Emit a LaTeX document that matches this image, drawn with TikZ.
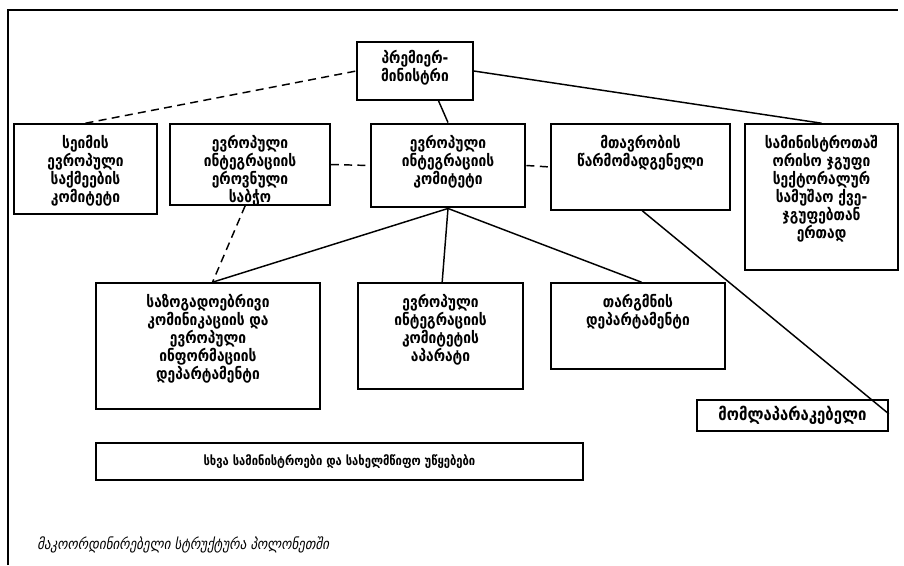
\documentclass[tikz,border=0pt]{standalone}
\usepackage{fontspec}
\setmainfont{DejaVu Sans}
\newfontfamily\geo[FakeStretch=0.86]{DejaVu Sans}
\usetikzlibrary{fit,calc}
\tikzset{
  boxline/.style={draw, line width=1.2pt, inner sep=0pt},
  thickbox/.style={draw, line width=2.2pt, inner sep=0pt},
  txt/.style={align=center, font=\geo\bfseries\fontsize{12}{13.5}\selectfont, inner sep=0pt, anchor=north},
  conn/.style={line width=1.1pt},
  dconn/.style={line width=1.1pt, dash pattern=on 6pt off 4pt},
}
\newcommand{\mkbox}[4][boxline]{%
  \coordinate (#2-nw) at (#3);
  \coordinate (#2-se) at (#4);
  \node[fit=(#2-nw)(#2-se), #1] (#2) {};
}
\begin{document}
\begin{tikzpicture}[x=0.75pt, y=-0.75pt]
\useasboundingbox (0,0) rectangle (904,565);
% frame
\draw[line width=1.4pt] (8,565) -- (8,10) -- (898,10);
% boxes
\mkbox{pm}{357,42}{473,100}
\mkbox{b2}{14,124}{157,214}
\mkbox{b3}{170,124}{330,205}
\mkbox[thickbox]{b4}{371,124}{525,207}
\mkbox{b5}{551,124}{730,210}
\mkbox{b6}{745,124}{898,270}
\mkbox{b7}{96,283}{320,409}
\mkbox{b8}{358,283}{523,389}
\mkbox{b9}{551,283}{725,369}
\mkbox{b10}{697,400}{888,431}
\mkbox{b11}{96,443}{583,480}
% texts
\node[txt] (tpm) at ($(pm.north)+(0,9)$) {პრემიერ-\\მინისტრი};
\node[txt] (t2) at ($(b2.north)+(0,12)$) {სეიმის\\ევროპული\\საქმეების\\კომიტეტი};
\begin{scope}
\clip (b3.south west) rectangle (b3.north east);
\node[txt] (t3) at ($(b3.north)+(0,12)$) {ევროპული\\ინტეგრაციის\\ეროვნული\\საბჭო};
\end{scope}
\node[txt] (t4) at ($(b4.north)+(0,12)$) {ევროპული\\ინტეგრაციის\\კომიტეტი};
\node[txt] (t5) at ($(b5.north)+(0,12)$) {მთავრობის\\წარმომადგენელი};
\node[txt] (t6) at ($(b6.north)+(0,12)$) {სამინისტროთაშ\\ორისო ჯგუფი\\სექტორალურ\\სამუშაო ქვე-\\ჯგუფებთან\\ერთად};
\node[txt] (t7) at ($(b7.north)+(0,12)$) {საზოგადოებრივი\\კომინიკაციის და\\ევროპული\\ინფორმაციის\\დეპარტამენტი};
\node[txt] (t8) at ($(b8.north)+(0,12)$) {ევროპული\\ინტეგრაციის\\კომიტეტის\\აპარატი};
\node[txt] (t9) at ($(b9.north)+(0,12)$) {თარგმნის\\დეპარტამენტი};
\node[txt, anchor=center, font=\geo\bfseries\fontsize{13}{14}\selectfont] (t10) at (b10.center) {მომლაპარაკებელი};
\node[txt, anchor=center, font=\geo\bfseries\fontsize{9.8}{11}\selectfont] (t11) at (b11.center) {სხვა სამინისტროები და სახელმწიფო უწყებები};
\node[font=\geo\itshape\fontsize{11.4}{12}\selectfont, anchor=base west, inner sep=0pt] (cap) at (37,549) {მაკოორდინირებელი სტრუქტურა პოლონეთში};
% connectors
\draw[dconn] (b2.north) -- (pm.west);
\draw[conn] (pm.east) -- (b6.north);
\draw[conn] ($(pm.south west)!0.7!(pm.south east)$) -- (b4.north);
\draw[dconn] (b3.east) -- (b4.west);
\draw[dconn] (b4.east) -- (b5.west);
\draw[dconn] ($(b3.south west)!0.47!(b3.south east)$) -- ($(b7.north west)!0.52!(b7.north east)$);
\draw[conn] ($(b4.south west)!0.5!(b4.south east)$) -- ($(b7.north west)!0.52!(b7.north east)$);
\draw[conn] ($(b4.south west)!0.5!(b4.south east)$) -- ($(b8.north west)!0.51!(b8.north east)$);
\draw[conn] ($(b4.south west)!0.5!(b4.south east)$) -- ($(b9.north west)!0.52!(b9.north east)$);
\draw[conn] ($(b5.south west)!0.51!(b5.south east)$) -- ($(b10.north east)!0.45!(b10.south east)$);
\end{tikzpicture}
\end{document}
